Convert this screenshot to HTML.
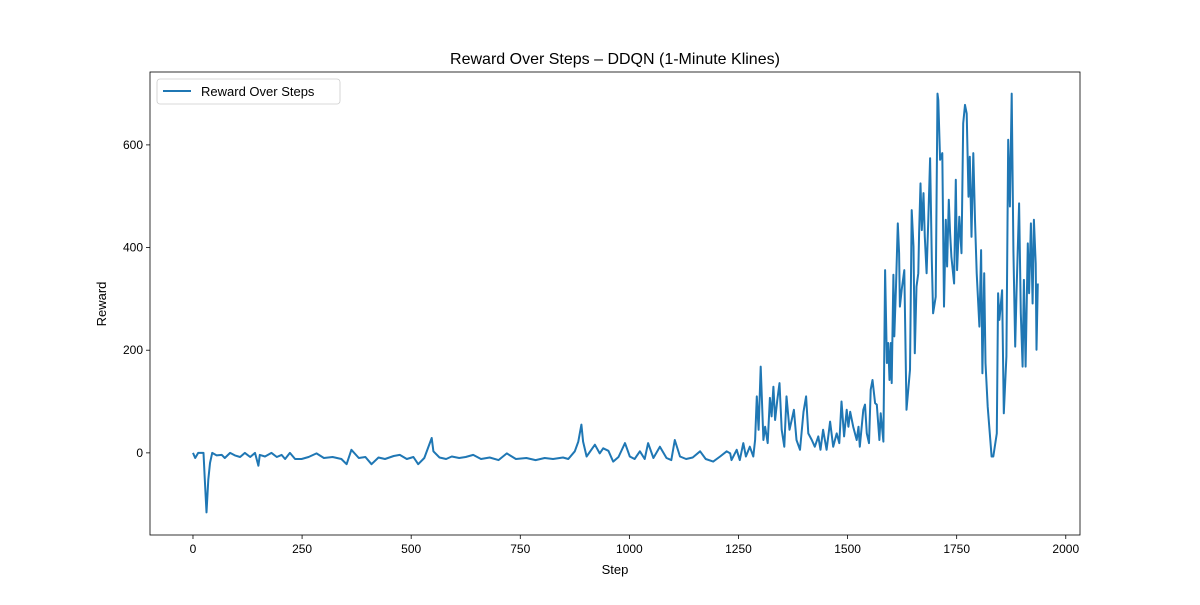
<!DOCTYPE html>
<html><head><meta charset="utf-8"><style>
body{margin:0;background:#fff;}
text{font-family:"Liberation Sans","DejaVu Sans",sans-serif;fill:#000;}
</style></head><body>
<svg id="chart" width="1200" height="600" xmlns="http://www.w3.org/2000/svg">
<rect width="1200" height="600" fill="#fff"/>
<text x="615" y="64" font-size="16" text-anchor="middle">Reward Over Steps – DDQN (1-Minute Klines)</text>
<g id="xticks"></g>
<g id="yticks"></g>
<path id="line" fill="none" stroke="#1f77b4" stroke-width="2" stroke-linejoin="round"/>
<rect x="150" y="72" width="930" height="463" fill="none" stroke="#000" stroke-width="0.8"/>
<text x="615" y="574" font-size="13" text-anchor="middle">Step</text>
<text transform="translate(106,304) rotate(-90)" font-size="13" text-anchor="middle">Reward</text>
<g>
<rect x="157" y="79" width="183" height="25" rx="3" fill="#fff" stroke="#ccc" stroke-width="0.8"/>
<line x1="163" y1="91" x2="191" y2="91" stroke="#1f77b4" stroke-width="2"/>
<text x="201" y="96" font-size="13">Reward Over Steps</text>
</g>
</svg>
<script>
const xTicks=[0,250,500,750,1000,1250,1500,1750,2000];
const yTicks=[0,200,400,600];
const steps=[0,5,12,24,27,31,35,39,44,54,66,73,85,96,108,119,131,142,150,153,165,180,192,203,211,222,234,249,265,283,300,320,340,352,363,380,395,409,425,440,460,474,490,505,516,530,547,551,565,580,593,610,625,642,660,680,700,719,740,764,785,806,825,848,860,875,883,890,894,902,921,932,940,952,963,975,990,1001,1012,1024,1035,1043,1055,1070,1085,1096,1104,1116,1130,1145,1162,1175,1192,1208,1223,1231,1234,1246,1253,1261,1267,1276,1284,1288,1292,1296,1301,1307,1311,1317,1322,1326,1330,1334,1339,1344,1349,1355,1360,1367,1372,1377,1383,1391,1399,1405,1410,1418,1425,1433,1438,1444,1452,1460,1467,1475,1481,1486,1492,1498,1502,1506,1513,1521,1525,1528,1536,1540,1544,1549,1553,1557,1563,1567,1573,1576,1582,1586,1590,1593,1596,1599,1601,1605,1607,1611,1615,1618,1620,1624,1630,1635,1643,1647,1651,1654,1658,1662,1664,1667,1670,1674,1677,1681,1685,1689,1693,1696,1702,1706,1708,1712,1717,1721,1725,1728,1732,1735,1738,1744,1748,1751,1756,1761,1765,1769,1773,1777,1780,1784,1788,1792,1796,1802,1806,1809,1813,1816,1821,1830,1834,1842,1845,1848,1854,1858,1864,1868,1872,1876,1880,1884,1887,1893,1897,1901,1904,1908,1913,1916,1920,1924,1927,1931,1933,1936];
const rewards=[0,-10,0,0,-52,-116,-52,-20,0,-5,-4,-10,0,-5,-8,0,-8,0,-25,-4,-7,0,-8,-4,-12,0,-12,-12,-8,-1,-10,-8,-12,-22,6,-10,-8,-22,-9,-12,-6,-4,-12,-8,-22,-10,29,3,-9,-12,-7,-10,-8,-4,-12,-9,-14,-1,-12,-10,-14,-10,-12,-9,-12,3,22,55,22,-7,16,-1,9,4,-17,-8,19,-7,-12,3,-12,19,-10,12,-10,-14,25,-7,-12,-9,3,-12,-17,-7,3,-1,-14,6,-14,19,-7,12,-7,25,110,45,168,25,51,19,107,71,129,64,103,136,45,12,110,45,64,84,25,6,80,110,38,25,12,32,6,45,6,61,12,38,19,100,32,84,51,80,51,25,51,12,84,94,38,19,123,142,97,94,25,77,22,356,175,214,142,214,136,347,227,324,447,389,285,318,356,84,162,473,402,194,324,350,428,525,434,506,421,350,454,574,376,272,304,700,687,571,584,285,454,363,493,428,382,330,532,356,460,389,642,678,661,499,577,421,584,454,350,246,395,155,350,175,90,-7,-7,38,311,259,317,77,188,610,480,700,395,207,311,486,272,168,337,168,408,311,447,291,454,369,201,330,253];
const X0=150,X1=1080,Y0=72,Y1=535,xmin=-98.5,xmax=2032.6,ymin=-160,ymax=742;
function sx(v){return X0+(v-xmin)/(xmax-xmin)*(X1-X0);}
function sy(v){return Y1-(v-ymin)/(ymax-ymin)*(Y1-Y0);}
const NS='http://www.w3.org/2000/svg';
const gx=document.getElementById('xticks'),gy=document.getElementById('yticks');
xTicks.forEach(t=>{
 const l=document.createElementNS(NS,'line');
 l.setAttribute('x1',sx(t));l.setAttribute('x2',sx(t));l.setAttribute('y1',Y1);l.setAttribute('y2',Y1+4);l.setAttribute('stroke','#000');l.setAttribute('stroke-width','0.8');
 
 
 gx.appendChild(l);
 const tx=document.createElementNS(NS,'text');
 tx.setAttribute('x',sx(t));tx.setAttribute('y',Y1+18);tx.setAttribute('font-size','12');tx.setAttribute('text-anchor','middle');tx.textContent=t;
 
 
 gx.appendChild(tx);
});
yTicks.forEach(t=>{
 const l=document.createElementNS(NS,'line');
 l.setAttribute('x1',X0-4);l.setAttribute('x2',X0);l.setAttribute('y1',sy(t));l.setAttribute('y2',sy(t));l.setAttribute('stroke','#000');l.setAttribute('stroke-width','0.8');
 
 
 gy.appendChild(l);
 const tx=document.createElementNS(NS,'text');
 tx.setAttribute('x',X0-7);tx.setAttribute('y',sy(t)+4);tx.setAttribute('font-size','12');tx.setAttribute('text-anchor','end');tx.textContent=t;
 
 
 gy.appendChild(tx);
});
document.getElementById('line').setAttribute('d',steps.map((s,i)=>(i?'L':'M')+sx(s).toFixed(1)+','+sy(rewards[i]).toFixed(1)).join(''));
</script>
</body></html>
